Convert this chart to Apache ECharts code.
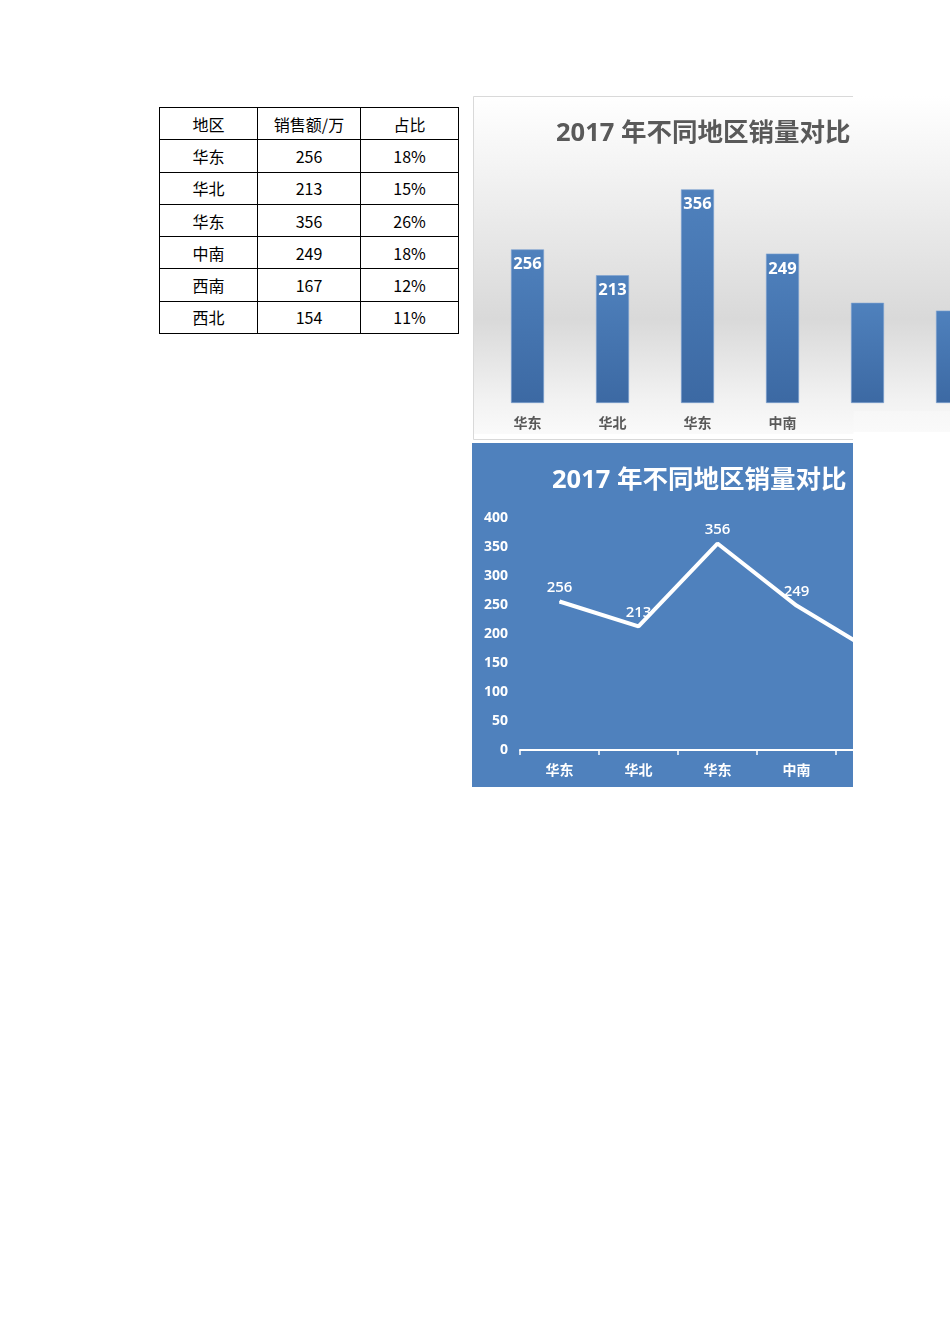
<!DOCTYPE html>
<html>
<head>
<meta charset="utf-8">
<script src="https://cdn.jsdelivr.net/npm/echarts@6/dist/echarts.min.js"></script>
<style>
html,body{margin:0;padding:0;background:#fff;overflow:hidden;width:950px;height:1344px;}
#tbl{position:absolute;left:159px;top:107px;border-collapse:collapse;table-layout:fixed;width:300px;font-family:"Noto Sans CJK SC","Noto Sans",sans-serif;font-size:16px;color:#000;}
#tbl td{border:1px solid #000;text-align:center;padding:0;height:31.3px;line-height:30px;}
#bar{position:absolute;left:473px;top:96px;width:477px;height:345px;}
#line{position:absolute;left:472px;top:443px;width:381px;height:344px;}
</style>
</head>
<body>
<table id="tbl"></table>
<div id="bar"></div>
<div id="line"></div>
<script>
var headers = ['地区', '销售额/万', '占比'];
var regions = ['华东', '华北', '华东', '中南', '西南', '西北'];
var sales = [256, 213, 356, 249, 167, 154];
var shares = ['18%', '15%', '26%', '18%', '12%', '11%'];
var chartTitle = '2017 年不同地区销量对比';
var yTicks = [0, 50, 100, 150, 200, 250, 300, 350, 400];

// table
var tbl = document.getElementById('tbl');
var colW = [98, 103, 98];
var html = '<colgroup>' + colW.map(function (w) { return '<col style="width:' + w + 'px">'; }).join('') + '</colgroup>';
html += '<tr>' + headers.map(function (h) { return '<td>' + h + '</td>'; }).join('') + '</tr>';
regions.forEach(function (r, i) {
  html += '<tr><td>' + r + '</td><td>' + sales[i] + '</td><td>' + shares[i] + '</td></tr>';
});
tbl.innerHTML = html;

var FONT = "'Open Sans','Noto Sans CJK SC',sans-serif";
var labelledCount = 4;

// bar chart
var bar = echarts.init(document.getElementById('bar'));
bar.setOption({
  animation: false,
  graphic: [
    { type: 'rect', z: -10, silent: true, shape: { x: 0, y: 0, width: 477, height: 338 },
      style: { fill: new echarts.graphic.LinearGradient(0, 0, 0, 1, [
        { offset: 0, color: '#ffffff' },
        { offset: 0.2, color: '#f4f4f4' },
        { offset: 0.66, color: '#d9d9d9' },
        { offset: 0.9, color: '#f2f2f2' },
        { offset: 1, color: '#fafafa' }]) } },
    { type: 'rect', z: 100, silent: true, shape: { x: 380.5, y: 315, width: 100, height: 30 },
      style: { fill: new echarts.graphic.LinearGradient(0, 0, 0, 1, [
        { offset: 0, color: '#f7f7f7' },
        { offset: 0.7, color: '#fafafa' },
        { offset: 0.71, color: '#ffffff' },
        { offset: 1, color: '#ffffff' }]) } },
    { type: 'polyline', z: 101, silent: true,
      shape: { points: [[380, 0.5], [0.5, 0.5], [0.5, 343.5], [380, 343.5]] },
      style: { fill: 'none', stroke: '#d9d9d9', lineWidth: 1 } }
  ],
  title: {
    text: chartTitle, left: 78, top: 20,
    textStyle: { fontFamily: FONT, fontSize: 25.5, fontWeight: 'bold', color: '#595959' }
  },
  grid: { left: 12, top: 67, width: 510, height: 240, containLabel: false, outerBoundsMode: 'none' },
  xAxis: {
    type: 'category', data: regions,
    axisLine: { show: false }, axisTick: { show: false },
    axisLabel: { color: '#595959', fontFamily: FONT, fontSize: 14, fontWeight: 'bold', margin: 14 }
  },
  yAxis: { type: 'value', min: 0, max: 400, show: false, splitLine: { show: false } },
  series: [{
    type: 'bar', barWidth: 33,
    data: sales.map(function (v, i) {
      return { value: v, label: { show: i < labelledCount } };
    }),
    itemStyle: {
      color: new echarts.graphic.LinearGradient(0, 0, 0, 1, [
        { offset: 0, color: '#4f81bd' },
        { offset: 1, color: '#3c69a3' }]),
      borderColor: '#7ea3d1', borderWidth: 0.6
    },
    label: { show: true, position: 'insideTop', distance: 7, color: '#ffffff',
      fontFamily: FONT, fontSize: 16.5, fontWeight: 'bold' }
  }]
});

// line chart
var line = echarts.init(document.getElementById('line'));
line.setOption({
  animation: false,
  backgroundColor: '#4f81bd',
  title: {
    text: chartTitle, left: 75, top: 20,
    textStyle: { fontFamily: FONT, fontSize: 25.5, fontWeight: 'bold', color: '#ffffff' }
  },
  grid: { left: 48, top: 75, width: 474, height: 232, containLabel: false, outerBoundsMode: 'none' },
  xAxis: {
    type: 'category', data: regions,
    axisLine: { show: true, lineStyle: { color: '#ffffff', width: 2 } },
    axisTick: { show: true, length: 5, lineStyle: { color: '#ffffff', width: 1.5 } },
    axisLabel: { color: '#ffffff', fontFamily: FONT, fontSize: 14, fontWeight: 'bold', margin: 14 }
  },
  yAxis: {
    type: 'value', min: 0, max: 400, interval: 50,
    axisLine: { show: false }, axisTick: { show: false }, splitLine: { show: false },
    axisLabel: { color: '#ffffff', fontFamily: FONT, fontSize: 14, fontWeight: 'bold', margin: 12,
      formatter: function (v) { return yTicks.indexOf(v) >= 0 ? String(v) : ''; } }
  },
  series: [{
    type: 'line', data: sales, showSymbol: true, symbol: 'circle', symbolSize: 1,
    itemStyle: { color: '#ffffff' },
    lineStyle: { color: '#ffffff', width: 4 },
    label: { show: true, position: 'top', distance: 6, color: '#ffffff', fontFamily: FONT,
      fontSize: 15, fontWeight: 600 }
  }]
});
</script>
</body>
</html>
